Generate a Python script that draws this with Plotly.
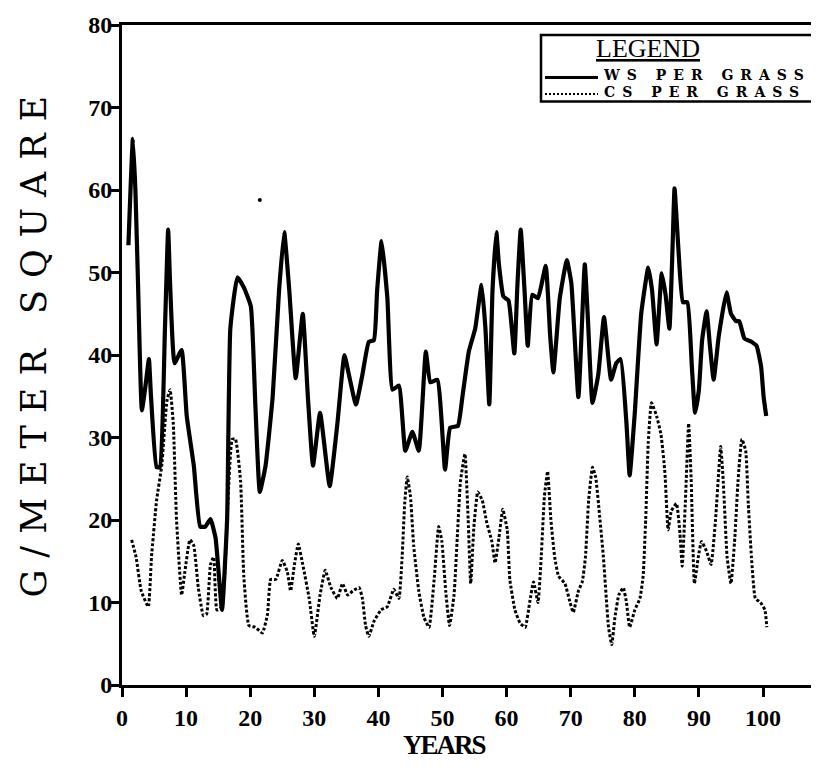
import plotly.graph_objects as go

# ---- data ----
ws_years = [1.0, 1.7, 2.1, 2.5, 3.1, 3.7, 4.2, 4.5, 5.4, 5.9, 6.7, 7.2, 7.5, 8.2, 9.3, 10.1,
            11.2, 12.2, 13.0, 13.8, 14.6, 15.6, 16.4, 16.9, 18.0, 19.0, 20.1, 20.8, 21.5, 22.4,
            23.5, 24.5, 25.3, 26.1, 27.1, 28.2, 29.0, 29.8, 30.9, 32.4, 33.6, 34.7, 35.4, 36.5,
            37.5, 38.5, 39.3, 39.8, 40.5, 41.4, 42.2, 43.2, 44.2, 45.3, 46.3, 47.4, 48.1, 49.2,
            50.4, 51.2, 52.4, 53.1, 54.1, 55.1, 56.1, 56.7, 57.3, 57.8, 58.4, 58.8, 59.5, 60.3,
            61.2, 61.7, 62.2, 62.8, 63.3, 64.0, 64.9, 66.1, 66.8, 67.3, 68.3, 69.4, 70.1, 71.2,
            72.2, 72.7, 73.4, 74.3, 75.2, 76.3, 77.1, 77.8, 78.7, 79.2, 80.0, 81.0, 82.1, 82.7,
            83.4, 84.2, 84.8, 85.4, 85.9, 86.2, 86.8, 87.5, 88.2, 88.9, 89.4, 90.0, 90.5, 91.2,
            91.7, 92.3, 93.1, 94.3, 95.0, 95.8, 96.3, 97.1, 98.2, 99.0, 99.7, 100.1, 100.5]
ws_values = [53.3, 66.2, 59.8, 48.7, 33.3, 36.5, 39.5, 35.3, 26.4, 26.4, 43.2, 55.2, 48.7, 39.0,
             40.6, 32.6, 26.6, 19.2, 19.2, 20.1, 17.8, 9.1, 20.1, 43.2, 49.4, 48.2, 45.9, 34.0,
             23.4, 26.6, 34.9, 47.8, 54.9, 47.8, 37.2, 45.0, 34.9, 26.6, 33.0, 24.1, 31.7, 40.0,
             37.6, 34.0, 37.6, 41.6, 41.8, 47.8, 53.8, 46.9, 35.8, 36.3, 28.4, 30.7, 28.4, 40.4,
             36.7, 37.0, 26.1, 31.2, 31.4, 34.9, 40.4, 43.2, 48.5, 43.2, 34.0, 47.8, 54.9, 51.0,
             47.1, 46.6, 40.2, 48.7, 55.2, 47.8, 41.1, 47.3, 46.9, 50.8, 42.3, 37.9, 46.9, 51.5,
             48.7, 34.9, 51.0, 44.1, 34.2, 37.6, 44.6, 37.0, 39.0, 39.5, 31.7, 25.4, 33.0, 45.0,
             50.6, 47.8, 41.3, 49.9, 47.3, 43.2, 53.3, 60.2, 52.9, 46.4, 46.4, 38.6, 33.0, 35.8,
             41.8, 45.3, 41.3, 37.0, 42.3, 47.6, 45.0, 44.1, 44.1, 42.0, 41.6, 41.1, 38.6, 34.9,
             32.6]

cs_years = [1.5, 2.2, 3.0, 4.1, 4.6, 5.4, 6.2, 7.0, 7.5, 8.0, 8.5, 9.3, 9.8, 10.6, 11.2, 11.9,
            12.7, 13.2, 13.8, 14.3, 14.8, 15.6, 16.4, 17.2, 17.7, 18.5, 19.0, 19.8, 20.8, 21.9,
            22.7, 23.2, 24.0, 25.0, 25.8, 26.3, 26.9, 27.5, 28.2, 29.2, 30.0, 30.9, 31.7, 32.6,
            33.6, 34.4, 35.2, 36.0, 37.0, 37.5, 38.0, 38.5, 39.3, 40.4, 41.4, 42.4, 43.2, 43.7,
            44.1, 44.5, 45.0, 45.5, 46.3, 47.1, 47.9, 48.7, 49.4, 49.9, 50.5, 51.1, 51.8, 52.3,
            52.8, 53.5, 54.0, 54.4, 54.9, 55.5, 56.2, 56.9, 57.7, 58.2, 58.8, 59.4, 60.1, 60.5,
            61.3, 62.1, 62.9, 63.6, 64.2, 64.9, 65.4, 65.9, 66.4, 66.9, 67.5, 68.1, 69.1, 69.9,
            70.4, 71.2, 71.8, 72.3, 72.8, 73.4, 73.9, 74.5, 75.1, 75.6, 75.9, 76.4, 76.9, 77.5,
            78.2, 78.7, 79.2, 80.0, 80.8, 81.3, 81.7, 82.1, 82.6, 83.4, 84.1, 84.7, 85.2, 85.7,
            86.5, 87.0, 87.4, 87.9, 88.4, 88.8, 89.3, 89.9, 90.4, 91.2, 91.9, 92.6, 93.4, 93.8,
            94.4, 95.0, 95.6, 96.1, 96.7, 97.3, 97.7, 98.2, 98.8, 99.6, 100.3, 100.6]
cs_values = [17.6, 15.5, 11.4, 9.5, 15.5, 22.4, 26.6, 34.4, 35.8, 31.7, 20.1, 10.9, 13.7, 17.6,
             16.9, 11.8, 8.4, 8.6, 14.6, 15.5, 9.1, 9.5, 20.1, 29.8, 29.8, 24.7, 13.2, 7.2, 7.0,
             6.3, 8.6, 12.8, 12.8, 15.1, 13.7, 11.4, 14.6, 17.1, 14.6, 10.5, 5.9, 10.9, 13.9,
             11.8, 10.5, 12.3, 10.9, 11.4, 11.8, 10.5, 7.2, 5.9, 7.7, 9.1, 9.5, 11.6, 10.5, 15.5,
             22.0, 25.2, 22.9, 16.9, 11.4, 8.2, 7.0, 12.8, 19.2, 17.4, 11.4, 7.2, 10.9, 17.8,
             24.7, 28.0, 20.1, 12.3, 19.2, 23.4, 22.4, 19.7, 17.4, 14.8, 17.8, 21.3, 18.8, 12.8,
             9.1, 7.5, 7.0, 10.0, 12.5, 10.0, 15.5, 22.9, 25.9, 20.1, 15.5, 13.2, 12.3, 10.0,
             8.8, 11.4, 12.5, 15.5, 22.4, 26.4, 25.2, 20.6, 15.5, 10.0, 7.0, 4.9, 8.2, 10.9,
             11.8, 10.0, 7.0, 9.1, 10.5, 13.2, 20.1, 29.4, 34.2, 32.6, 30.3, 25.7, 18.8, 21.1,
             22.0, 18.8, 14.4, 22.4, 31.7, 24.7, 12.3, 15.5, 17.4, 16.2, 14.6, 20.1, 28.9, 24.7,
             15.5, 12.3, 17.8, 24.7, 29.8, 28.4, 22.0, 15.5, 10.5, 10.0, 9.1, 7.0]

stray_x = [21.5]
stray_y = [58.8]

x_ticks = [0, 10, 20, 30, 40, 50, 60, 70, 80, 90, 100]
y_ticks = [0, 10, 20, 30, 40, 50, 60, 70, 80]

series_names = ["WS PER GRASS", "CS PER GRASS"]
legend_title = "LEGEND"
x_title = "YEARS"
y_title = "G/METER SQUARE"

SERIF = "Liberation Serif"
WIDE = "DejaVu Serif"

# the page body has an 8px margin, so the figure is drawn 8px in from the corner
OFF = 8
W, H = 819 - OFF, 768 - OFF
# plot area in reference pixels: x 122..815, y 20..685
L, R, T, B = 122, 815, 20, 685

fig = go.Figure()
fig.add_trace(go.Scatter(x=ws_years, y=ws_values, mode="lines", name=series_names[0],
                         line=dict(color="black", width=4.2, shape="spline", smoothing=0.4),
                         showlegend=False))
fig.add_trace(go.Scatter(x=cs_years, y=cs_values, mode="lines", name=series_names[1],
                         line=dict(color="black", width=3, dash="3px,2px", shape="spline",
                                   smoothing=0.4),
                         showlegend=False))
fig.add_trace(go.Scatter(x=stray_x, y=stray_y, mode="markers",
                         marker=dict(color="black", size=4), showlegend=False, hoverinfo="skip"))


def px(xp):
    return (xp - L) / (R - L)


def py(yp):
    return (B - yp) / (B - T)


ROW1, ROW2 = 73, 89.5
shapes = [
    dict(type="rect", xref="paper", yref="paper", x0=px(541), x1=px(815), y0=py(97), y1=py(30),
         line=dict(color="black", width=2.5), fillcolor="white", layer="above"),
    dict(type="line", xref="paper", yref="paper", x0=px(545), x1=px(598), y0=py(ROW1),
         y1=py(ROW1), line=dict(color="black", width=3), layer="above"),
    dict(type="line", xref="paper", yref="paper", x0=px(545), x1=px(598), y0=py(ROW2),
         y1=py(ROW2), line=dict(color="black", width=2, dash="2px,2px"), layer="above"),
]

row_style = "font-size:14px;letter-spacing:7px"
legend_rows = "<br>".join('<span style="%s">%s</span>' % (row_style, n) for n in series_names)

annotations = [
    dict(text="<u>" + legend_title + "</u>", xref="paper", yref="paper", x=px(648), y=py(44),
         showarrow=False, xanchor="center", yanchor="middle",
         font=dict(family=SERIF, size=26, color="black")),
    dict(text=legend_rows, xref="paper", yref="paper", x=px(601), y=py((ROW1 + ROW2) / 2 - 2),
         showarrow=False, xanchor="left", yanchor="middle", align="left",
         font=dict(family=WIDE, size=12.7, color="black", weight="bold")),
    dict(text='<span style="letter-spacing:-2px">' + x_title + "</span>", xref="paper",
         yref="paper", x=px(444), y=py(745), showarrow=False,
         xanchor="center", yanchor="middle",
         font=dict(family=SERIF, size=27, color="black", weight="bold")),
    dict(text='<span style="letter-spacing:12px">' + y_title + "</span>", xref="paper",
         yref="paper", x=px(34), y=py(338), showarrow=False, textangle=-90,
         xanchor="center", yanchor="middle",
         font=dict(family=WIDE, size=35, color="black")),
]

fig.update_layout(
    width=W, height=H,
    margin=dict(l=L - OFF, r=W - (R - OFF), t=T - OFF, b=H - (B - OFF), pad=0),
    paper_bgcolor="white", plot_bgcolor="white",
    shapes=shapes, annotations=annotations,
    xaxis=dict(range=[0, (R - L) / 6.41], tickvals=x_ticks, ticktext=[str(v) for v in x_ticks],
               showgrid=False, zeroline=False, showline=True, linecolor="black", linewidth=3,
               mirror=True, ticks="outside", ticklen=9, tickwidth=2.5, tickcolor="black",
               ticklabeloverflow="allow",
               tickfont=dict(family=SERIF, size=24, color="black", weight="bold")),
    yaxis=dict(range=[0, 80], tickvals=y_ticks, ticktext=[str(v) for v in y_ticks],
               showgrid=False, zeroline=False, showline=True, linecolor="black", linewidth=3,
               ticks="outside", ticklen=8, tickwidth=2.5, tickcolor="black",
               ticklabelstandoff=-6, ticklabeloverflow="allow",
               tickfont=dict(family=SERIF, size=24, color="black", weight="bold")),
)

fig.write_html("out.html")
